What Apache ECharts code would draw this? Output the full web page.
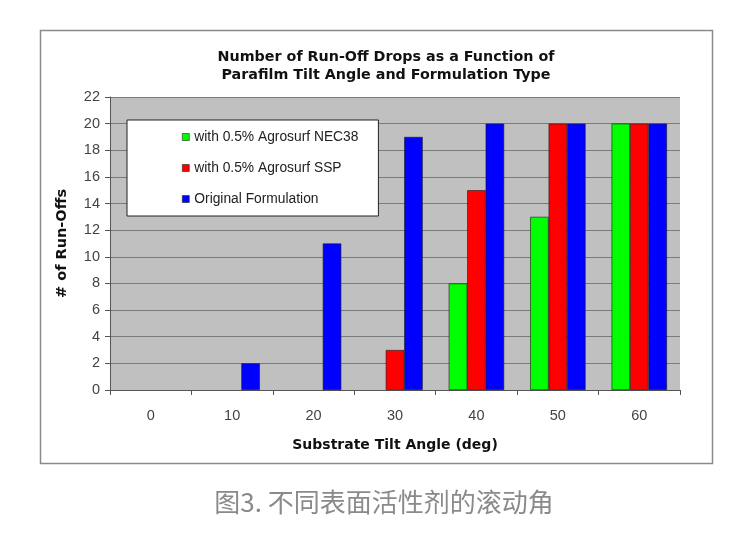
<!DOCTYPE html>
<html>
<head>
<meta charset="utf-8">
<script src="https://cdn.jsdelivr.net/npm/echarts@6/dist/echarts.min.js"></script>
<style>html,body{margin:0;padding:0;background:#fff;}#c{width:750px;height:533px;}</style>
</head>
<body>
<div id="c"></div>
<script>
var categories = ['0', '10', '20', '30', '40', '50', '60'];
var nec38 = [0, 0, 0, 0, 8, 13, 20];
var ssp = [0, 0, 0, 3, 15, 20, 20];
var original = [0, 2, 11, 19, 20, 20, 20];
var seriesNames = ['with 0.5% Agrosurf NEC38', 'with 0.5% Agrosurf SSP', 'Original Formulation'];
var titleText = 'Number of Run-Off Drops as a Function of\nParafilm Tilt Angle and Formulation Type';
var captionText = '图3. 不同表面活性剂的滚动角';

var chart = echarts.init(document.getElementById('c'));
var barStyle = function (c) { return { color: c, borderColor: '#1a1a1a', borderWidth: 0.6 }; };
function toItems(arr) {
  return arr.map(function (v) { return v === 0 ? { value: v, itemStyle: { borderWidth: 0 } } : v; });
}
chart.setOption({
  backgroundColor: '#fff',
  animation: false,
  graphic: [{
    type: 'rect', shape: { x: 40.5, y: 30.5, width: 672, height: 433 },
    style: { fill: 'none', stroke: '#8a8a8a', lineWidth: 1.5 }, z: -1
  }],
  title: [{
    text: titleText, left: 381, top: 43, textAlign: 'center',
    textStyle: { fontFamily: 'DejaVu Sans', fontWeight: 'bold', fontSize: 14.3, color: '#111', lineHeight: 18 }
  }, {
    text: captionText, left: 379, top: 484, textAlign: 'center',
    textStyle: { fontFamily: 'Noto Sans CJK SC', fontWeight: 'normal', fontSize: 26, color: '#8a8a8a' }
  }],
  legend: {
    orient: 'vertical', left: 127, top: 120,
    backgroundColor: '#fff', borderColor: '#222', borderWidth: 1,
    padding: [10, 20, 10, 55], itemGap: 17, itemWidth: 7, itemHeight: 7, itemStyle: { borderWidth: 0.6, borderColor: '#222' },
    icon: 'rect',
    textStyle: { fontFamily: 'Liberation Sans', fontSize: 13.8, color: '#222' },
    data: seriesNames
  },
  grid: { left: 110, right: 70, top: 97, bottom: 143, backgroundColor: '#c0c0c0', show: true, borderWidth: 0 },
  xAxis: {
    type: 'category', data: categories,
    name: 'Substrate Tilt Angle (deg)', nameLocation: 'middle', nameGap: 48,
    nameTextStyle: { fontFamily: 'DejaVu Sans', fontWeight: 'bold', fontSize: 14, color: '#111' },
    axisLine: { lineStyle: { color: '#555' } },
    axisTick: { show: true, inside: false, length: 5, lineStyle: { color: '#555' } },
    axisLabel: { fontFamily: 'Liberation Sans', fontSize: 14.5, color: '#444', margin: 18 }
  },
  yAxis: {
    type: 'value', min: 0, max: 22, interval: 2,
    name: '# of Run-Offs', nameLocation: 'middle', nameGap: 40,
    nameTextStyle: { fontFamily: 'DejaVu Sans', fontWeight: 'bold', fontSize: 14.5, color: '#111' },
    axisLine: { show: true, lineStyle: { color: '#555' } },
    axisTick: { show: true, length: 5, lineStyle: { color: '#555' } },
    axisLabel: { fontFamily: 'Liberation Sans', fontSize: 14.5, color: '#444', margin: 10 },
    splitLine: { show: true, lineStyle: { color: '#7a7a7a', width: 1 } }
  },
  series: [
    { name: seriesNames[0], type: 'bar', data: toItems(nec38), barGap: '0%', barCategoryGap: '32%', itemStyle: barStyle('#00ff00') },
    { name: seriesNames[1], type: 'bar', data: toItems(ssp), barGap: '0%', barCategoryGap: '32%', itemStyle: barStyle('#ff0000') },
    { name: seriesNames[2], type: 'bar', data: toItems(original), barGap: '0%', barCategoryGap: '32%', itemStyle: barStyle('#0000ff') }
  ]
});
</script>
</body>
</html>
